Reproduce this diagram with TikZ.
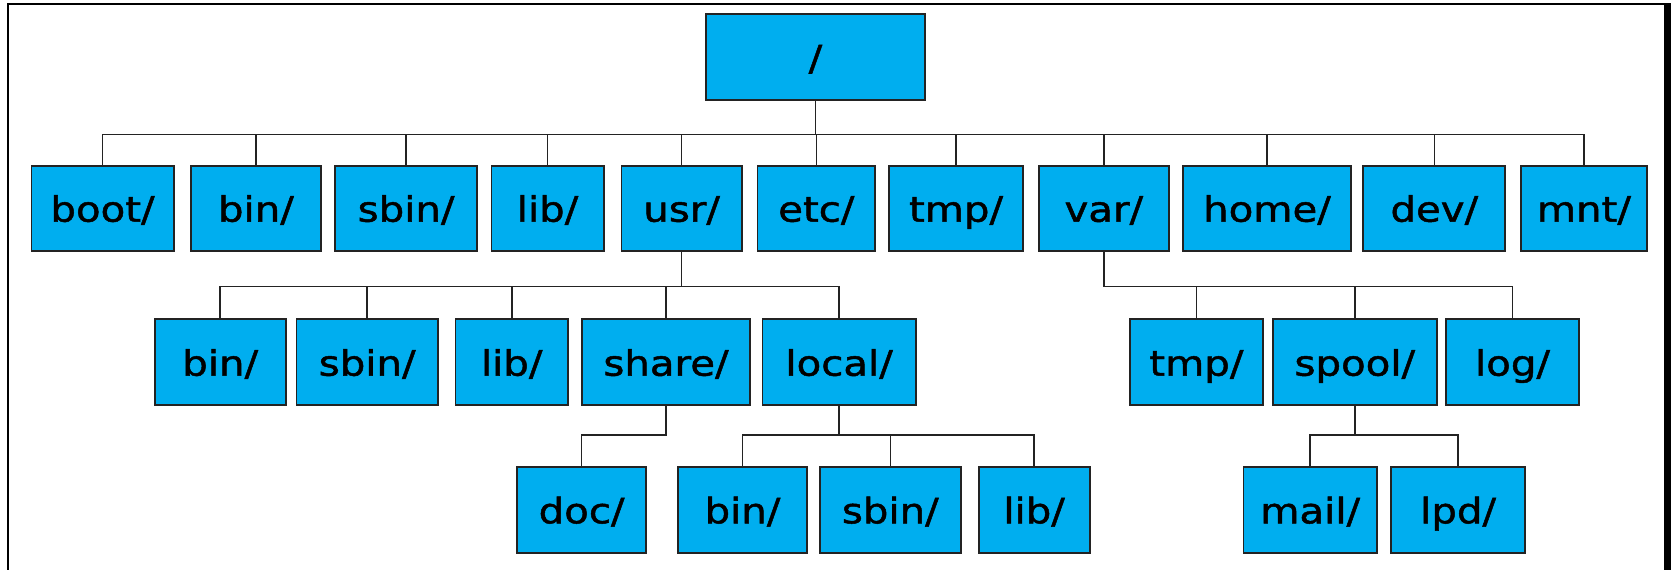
\documentclass[tikz,border=0pt]{standalone}
\usepackage{fontspec}
\setmainfont{DejaVu Sans}[FakeStretch=1.15, FakeBold=1.4]
\definecolor{dirblue}{RGB}{0,174,239}
\definecolor{edge}{RGB}{35,35,35}
\tikzset{
  dirbox/.style={draw=edge, line width=1.8pt, fill=dirblue, rectangle, inner sep=0pt,
    text height=27pt, text depth=0pt, font=\fontsize{35}{40}\selectfont},
  lvlone/.style={dirbox, minimum height=85pt},
  lvltwo/.style={dirbox, minimum height=86.3pt},
  link/.style={draw=edge, line width=1.6pt}
}
\begin{document}
\begin{tikzpicture}[x=1pt, y=-1pt]
% canvas and outer frame
\fill[white] (0,0) rectangle (1671,570);
\useasboundingbox (0,0) rectangle (1671,570);
\draw[black, line width=1.6pt] (7,4) -- (1664,4);
\draw[black, line width=2pt] (8,4) -- (8,570);
\fill[black] (1664,3.2) rectangle (1671,570);

% root
\node[dirbox, minimum width=219.3pt, minimum height=86pt] (root) at (815.4,57) {/};

% first level
\node[lvlone, minimum width=142.2pt] (boot) at (102.5,208.2) {boot/};
\node[lvlone, minimum width=130.4pt] (bin)  at (255.9,208.2) {bin/};
\node[lvlone, minimum width=142.1pt] (sbin) at (406.1,208.2) {sbin/};
\node[lvlone, minimum width=112.2pt] (lib)  at (547.5,208.2) {lib/};
\node[lvlone, minimum width=120.4pt] (usr)  at (681.6,208.2) {usr/};
\node[lvlone, minimum width=117.5pt] (etc)  at (816.3,208.2) {etc/};
\node[lvlone, minimum width=133.9pt] (tmp)  at (956.0,208.2) {tmp/};
\node[lvlone, minimum width=130.4pt] (var)  at (1103.8,208.2) {var/};
\node[lvlone, minimum width=167.5pt] (home) at (1267.0,208.2) {home/};
\node[lvlone, minimum width=142.0pt] (dev)  at (1434.3,208.2) {dev/};
\node[lvlone, minimum width=125.7pt] (mnt)  at (1583.9,208.2) {mnt/};

% second level
\node[lvltwo, minimum width=131.1pt] (ubin)   at (220.2,362.2) {bin/};
\node[lvltwo, minimum width=141.5pt] (usbin)  at (367.2,362.2) {sbin/};
\node[lvltwo, minimum width=112.5pt] (ulib)   at (511.7,362.2) {lib/};
\node[lvltwo, minimum width=167.9pt] (share)  at (666.0,362.2) {share/};
\node[lvltwo, minimum width=153.2pt] (local)  at (839.1,362.2) {local/};
\node[lvltwo, minimum width=133.4pt] (vtmp)   at (1196.4,362.2) {tmp/};
\node[lvltwo, minimum width=163.9pt] (spool)  at (1354.8,362.2) {spool/};
\node[lvltwo, minimum width=132.4pt] (log)    at (1512.5,362.2) {log/};

% third level
\node[lvltwo, minimum width=128.9pt] (doc)   at (581.6,509.8) {doc/};
\node[lvltwo, minimum width=128.6pt] (lbin)  at (742.5,509.8) {bin/};
\node[lvltwo, minimum width=141.4pt] (lsbin) at (890.3,509.8) {sbin/};
\node[lvltwo, minimum width=111.0pt] (llib)  at (1034.1,509.8) {lib/};
\node[lvltwo, minimum width=133.4pt] (mail)  at (1310.2,509.8) {mail/};
\node[lvltwo, minimum width=133.8pt] (lpd)   at (1458.1,509.8) {lpd/};

% connectors: parent down to a bus, then across and down to each child
\foreach \c in {boot,bin,sbin,lib,usr,etc,tmp,var,home,dev,mnt}
  \draw[link] (root.south) -- ++(0,33.7) -| (\c.north);
\foreach \c in {ubin,usbin,ulib,share,local}
  \draw[link] (usr.south) -- ++(0,35) -| (\c.north);
\foreach \c in {vtmp,spool,log}
  \draw[link] (var.south) -- ++(0,35) -| (\c.north);
\draw[link] (share.south) -- ++(0,29) -| (doc.north);
\foreach \c in {lbin,lsbin,llib}
  \draw[link] (local.south) -- ++(0,29) -| (\c.north);
\foreach \c in {mail,lpd}
  \draw[link] (spool.south) -- ++(0,29) -| (\c.north);
\end{tikzpicture}
\end{document}
